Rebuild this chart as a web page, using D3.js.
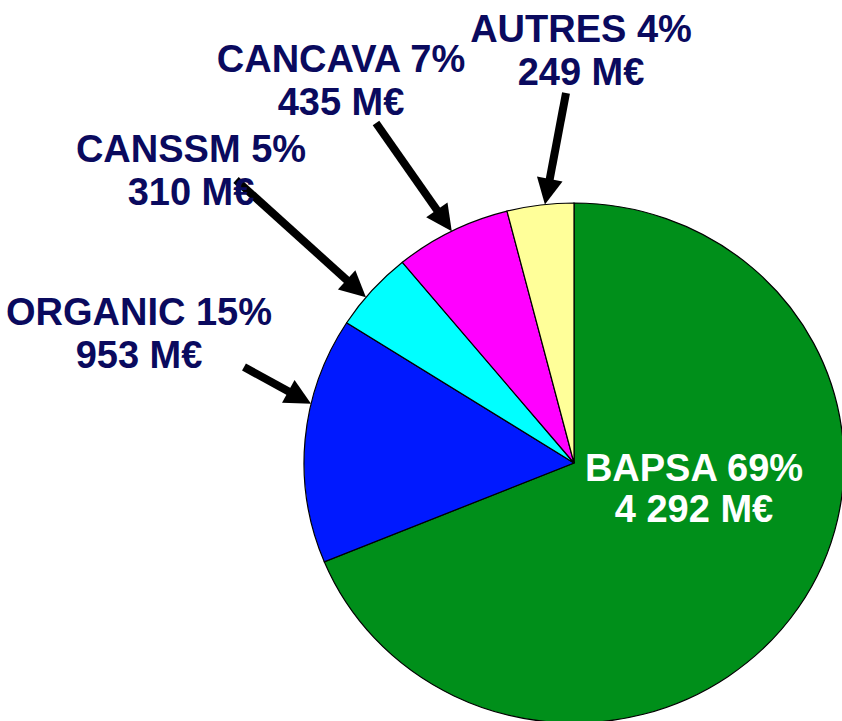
<!DOCTYPE html>
<html>
<head>
<meta charset="utf-8">
<script src="https://cdn.jsdelivr.net/npm/d3@7"></script>
<style>
  body { margin: 0; background: #fff; }
  svg { display: block; }
</style>
</head>
<body>
<div id="chart"></div>
<script>
// data
var categories = ["BAPSA", "ORGANIC", "CANSSM", "CANCAVA", "AUTRES"];
var amounts = [4292, 953, 310, 435, 249];
var percentLabels = ["69%", "15%", "5%", "7%", "4%"];
var amountLabels = ["4 292 M€", "953 M€", "310 M€", "435 M€", "249 M€"];
var colors = ["#008f1a", "#0019ff", "#00ffff", "#ff00ff", "#ffff99"];

// where each label sits, and where its arrow starts (relative to page)
var labelLayout = {
    BAPSA:   {x: 694, y: 481, arrow: null},
    ORGANIC: {x: 139, y: 325, arrow: {x: 244, y: 367, angleShift: 8}},
    CANSSM:  {x: 191, y: 162, arrow: {x: 236, y: 180, angleShift: -2}},
    CANCAVA: {x: 341, y: 72,  arrow: {x: 376, y: 123, angleShift: 0}},
    AUTRES:  {x: 581, y: 42,  arrow: {x: 566, y: 93,  angleShift: 1}}
};

var chart = (function() {

    var width = 842, height = 721;
    var cx = 574, cy = 463;
    var r = 260, stretchX = 270 / 260;   // the pie is a bit wider than tall
    var lineGap = 43;

    function draw(svg) {
        var slices = categories.map(function(c, i) {
            return {name: c, value: amounts[i], color: colors[i], pct: percentLabels[i], amt: amountLabels[i]};
        });

        var pie = d3.pie().sort(null).value(function(d) { return d.value; });
        var arc = d3.arc().innerRadius(0).outerRadius(r);
        var arcs = pie(slices);

        var g = svg.append("g")
            .attr("transform", "translate(" + cx + "," + cy + ") scale(" + stretchX + ",1)");

        g.selectAll("path")
            .data(arcs)
            .enter()
            .append("path")
            .attr("d", arc)
            .attr("fill", function(d) { return d.data.color; })
            .attr("stroke", "#000")
            .attr("stroke-width", 1.2)
            .attr("vector-effect", "non-scaling-stroke");

        // arrows: from label to the rim of the slice
        var arrows = svg.append("g");
        arcs.forEach(function(d) {
            var lay = labelLayout[d.data.name];
            if (!lay.arrow) return;
            var a = (d.startAngle + d.endAngle) / 2 + lay.arrow.angleShift * Math.PI / 180;
            var tx = cx + Math.sin(a) * r * stretchX;
            var ty = cy - Math.cos(a) * r;
            var sx = lay.arrow.x, sy = lay.arrow.y;
            var len = Math.hypot(tx - sx, ty - sy);
            var ux = (tx - sx) / len, uy = (ty - sy) / len;
            var headLen = 26, headHalf = 13;
            var bx = tx - ux * headLen, by = ty - uy * headLen;

            arrows.append("line")
                .attr("x1", sx).attr("y1", sy)
                .attr("x2", bx + ux * 2).attr("y2", by + uy * 2)
                .attr("stroke", "#000")
                .attr("stroke-width", 8);

            arrows.append("polygon")
                .attr("points", [
                    [tx, ty],
                    [bx - uy * headHalf, by + ux * headHalf],
                    [bx + uy * headHalf, by - ux * headHalf]
                ].map(function(p) { return p.join(","); }).join(" "))
                .attr("fill", "#000");
        });

        // labels, two centred lines each
        var labels = svg.append("g")
            .attr("font-family", "'Liberation Sans', Arial, sans-serif")
            .attr("font-weight", "bold")
            .attr("font-size", 38)
            .attr("text-anchor", "middle");

        arcs.forEach(function(d) {
            var lay = labelLayout[d.data.name];
            var fill = d.data.name === "BAPSA" ? "#fff" : "#0a0a5e";
            var t = labels.append("text").attr("fill", fill);
            t.append("tspan")
                .attr("x", lay.x).attr("y", lay.y)
                .text(d.data.name + " " + d.data.pct);
            t.append("tspan")
                .attr("x", lay.x).attr("y", lay.y + (d.data.name === "BAPSA" ? 41 : lineGap))
                .text(d.data.amt);
        });
    }

    return {
        render: function(placement) {
            d3.select(placement).html("");
            var svg = d3.select(placement).append("svg")
                .attr("width", width)
                .attr("height", height);
            draw(svg);
        }
    };
})();

chart.render("#chart");
</script>
</body>
</html>
